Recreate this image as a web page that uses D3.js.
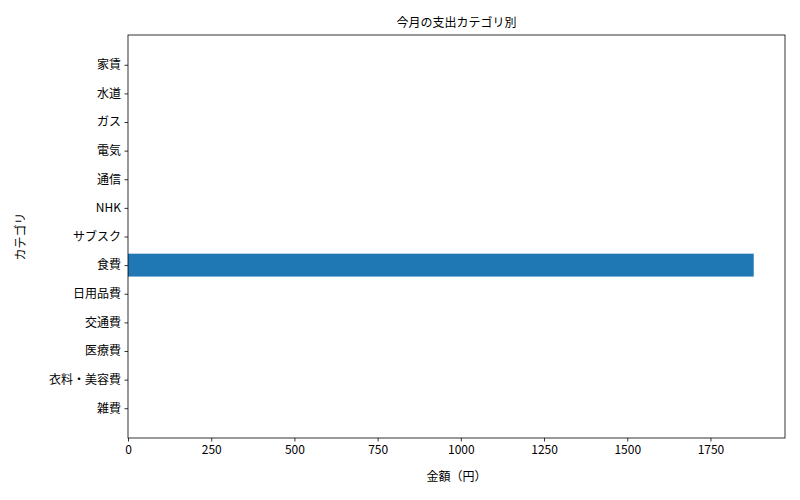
<!DOCTYPE html>
<html><head><meta charset="utf-8">
<script src="https://cdn.jsdelivr.net/npm/d3@7"></script>
<style>body{margin:0;background:#fff}text{font-family:"Noto Sans CJK JP","DejaVu Sans",sans-serif}</style>
</head><body><svg id="c" width="800" height="500"></svg>
<script>
const categories = ["家賃","水道","ガス","電気","通信","NHK","サブスク","食費","日用品費","交通費","医療費","衣料・美容費","雑費"];
const values = [0,0,0,0,0,0,0,1880,0,0,0,0,0];
const xTicks = [0,250,500,750,1000,1250,1500,1750];

const svg = d3.select("#c");
const L=128,R=785,T=35,B=438;
const vmax = d3.max(values);
const x = d3.scaleLinear().domain([0, vmax*1.05]).range([L,R]);
const n = categories.length;
const y = d3.scaleLinear().domain([-0.4-0.64, n-1+0.4+0.64]).range([T,B]);

svg.append("g").selectAll("rect").data(values).join("rect")
  .attr("x", x(0)).attr("y",(d,i)=>y(i-0.4)).attr("height",(d,i)=>y(i+0.4)-y(i-0.4))
  .attr("width", d=>x(d)-x(0)).attr("fill","#1f77b4");

svg.append("rect").attr("x",L).attr("y",T).attr("width",R-L).attr("height",B-T)
  .attr("fill","none").attr("stroke","#000").attr("stroke-width",0.8);

const gx = svg.append("g").attr("transform",`translate(0,${B})`)
  .call(d3.axisBottom(x).tickValues(xTicks).tickSize(3.5).tickPadding(3.5).tickFormat(d3.format("d")));
const gy = svg.append("g").attr("transform",`translate(${L},0)`)
  .call(d3.axisLeft(y).tickValues(d3.range(n)).tickSize(3.5).tickPadding(3.5).tickFormat(i=>categories[i]));
[gx,gy].forEach(g=>{g.select(".domain").remove();g.selectAll("text").attr("font-size",12).attr("fill","#000");g.selectAll("line").attr("stroke","#000").attr("stroke-width",0.8);});

svg.append("text").attr("x",(L+R)/2).attr("y",27).attr("text-anchor","middle").attr("font-size",12).text("今月の支出カテゴリ別");
svg.append("text").attr("x",(L+R)/2).attr("y",481).attr("text-anchor","middle").attr("font-size",12).text("金額（円）");
svg.append("text").attr("transform",`translate(25,${(T+B)/2}) rotate(-90)`).attr("text-anchor","middle").attr("font-size",12).text("カテゴリ");
</script></body></html>
